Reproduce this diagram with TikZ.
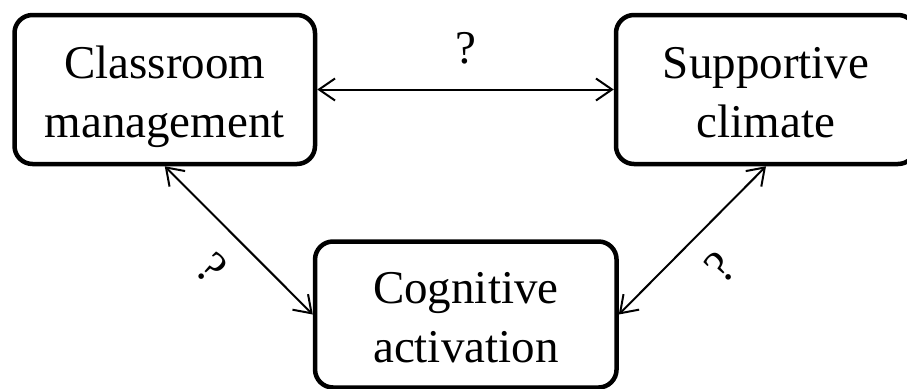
\documentclass[tikz,border=0pt]{standalone}
\usepackage{fontspec}
\setmainfont{Liberation Serif}
\usetikzlibrary{arrows.meta}

% invisible rules that fix the top and bottom of the two-line box texts
\newcommand\boxtopgap{\rule{0pt}{48pt}}
\newcommand\boxbotgap{\rule[-12pt]{0pt}{12pt}}

\tikzset{
  bigfont/.style={font=\fontsize{47}{59}\selectfont},
  conceptbox/.style={bigfont, draw, line width=4.5pt, rounded corners=18pt,
    minimum width=300pt, minimum height=149pt, inner sep=0pt, align=center},
  link/.style={line width=2pt,
    {Straight Barb[length=16pt,width=22pt]}-{Straight Barb[length=16pt,width=22pt]}},
  qmark/.style={bigfont, inner sep=0pt}
}

\begin{document}
\begin{tikzpicture}[x=1pt,y=-1pt]
  \useasboundingbox (0,0) rectangle (907,388);

  \node[conceptbox, minimum width=300.5pt] (cm) at (164.75,89.5)
    {\boxtopgap Classroom\\management\boxbotgap};
  \node[conceptbox] (sc) at (766,89.5)
    {\boxtopgap Supportive\\climate\boxbotgap};
  \node[conceptbox, minimum width=301.5pt, minimum height=146pt] (ca) at (465.8,314.5)
    {\boxtopgap Cognitive\\activation\boxbotgap};

  \draw[link] (cm.east) -- (sc.west)
    node[qmark, midway, above=24pt] (q1) {?};
  \draw[link] (cm.south) -- (ca.west)
    node[qmark, midway, sloped, below=22pt] (q2) {?};
  \draw[link] (sc.south) -- (ca.east)
    node[qmark, midway, sloped, below=22pt] (q3) {?};
\end{tikzpicture}
\end{document}
